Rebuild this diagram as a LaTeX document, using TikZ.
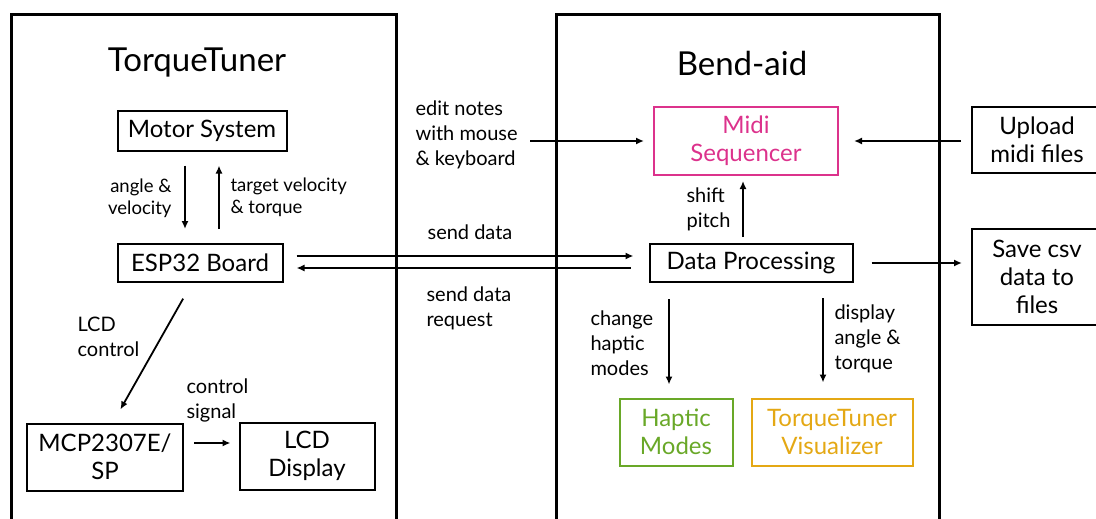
\documentclass[tikz,border=0pt]{standalone}
\usepackage{fontspec}
\setmainfont{Lato}
\usetikzlibrary{arrows.meta, positioning, calc}
\definecolor{midicolor}{RGB}{220, 50, 140}
\definecolor{hapticcolor}{RGB}{105, 168, 40}
\definecolor{visucolor}{RGB}{228, 168, 20}

\begin{document}
\begin{tikzpicture}[
    x=1pt, y=-1pt,
    >={Latex[length=8pt, width=7pt]},
    frame/.style={rectangle, draw, line width=2.8pt, anchor=north west},
    block/.style={rectangle, draw, line width=2pt, align=center, inner sep=2pt, font=\fontsize{24}{28}\selectfont},
    arrow/.style={->, line width=1.8pt},
    label/.style={font=\fontsize{20}{25}\selectfont, align=left},
    smalllabel/.style={font=\fontsize{18.5}{22}\selectfont},
    title/.style={font=\fontsize{33}{38}\selectfont}
]
\useasboundingbox (0,0) rectangle (1096,519);

% Frames
\node[frame, minimum width=385pt, minimum height=540pt] (ttframe) at (10,13) {};
\node[frame, minimum width=383pt, minimum height=540pt] (bdframe) at (555,13) {};
\node[title] (tttitle) at (197,63) {TorqueTuner};
\node[title] (bdtitle) at (742,63) {Bend-aid};

% TorqueTuner side
\node[block, minimum width=169pt, minimum height=39pt] (motor) at (202,131) {Motor System};
\node[block, minimum width=165pt, minimum height=38pt] (esp) at (200,263) {ESP32 Board};
\node[block, minimum width=156pt, minimum height=67pt] (mcp) at (105,457) {MCP2307E/\\SP};
\node[block, minimum width=135pt, minimum height=67pt] (lcd) at (307,456) {LCD\\Display};

% Bend-aid side
\node[block, draw=midicolor, text=midicolor, minimum width=184pt, minimum height=68pt] (midi) at (746,141) {Midi\\Sequencer};
\node[block, minimum width=203pt, minimum height=38pt] (dataproc) at (751,263) {Data Processing};
\node[block, draw=hapticcolor, text=hapticcolor, minimum width=113pt, minimum height=67pt] (haptic) at (676,432) {Haptic\\Modes};
\node[block, draw=visucolor, text=visucolor, minimum width=161pt, minimum height=67pt] (visu) at (832,432) {TorqueTuner\\Visualizer};

% Files
\node[block, minimum width=130pt, minimum height=65pt] (upload) at (1037,140) {Upload\\midi files};
\node[block, minimum width=130pt, minimum height=96pt] (savecsv) at (1037,277) {Save csv\\data to\\files};

% Motor <-> ESP32
\draw[arrow, shorten <=14pt, shorten >=14pt] (motor.south -| 185,0) -- (esp.north -| 185,0);
\draw[arrow, shorten <=14pt, shorten >=14pt] (esp.north -| 219,0) -- (motor.south -| 219,0);
\node[smalllabel, align=right, anchor=east] (anglelbl) at (175,198) {angle \&\\velocity};
\node[smalllabel, align=left, anchor=west] (targetlbl) at (227,197) {target velocity\\\& torque};

% ESP32 -> MCP -> LCD
\draw[arrow, shorten <=18pt, shorten >=15pt] ([xshift=-8pt]esp.south) -- ([xshift=8pt]mcp.north);
\node[label, anchor=west] (lcdctrl) at (74,337) {LCD\\control};
\draw[arrow, shorten <=10pt, shorten >=8pt] ([yshift=14pt]mcp.east) -- ([yshift=14pt]mcp.east -| lcd.west);
\node[label, anchor=west] (ctrlsig) at (183,400) {control\\signal};

% ESP32 <-> Data Processing
\draw[arrow, shorten <=13pt, shorten >=15pt] ([yshift=7pt]esp.east) -- ([yshift=7pt]dataproc.west);
\draw[arrow, shorten <=18pt, shorten >=13pt] ([yshift=-5pt]dataproc.west) -- ([yshift=-5pt]esp.east);
\node[label] (sendlbl) at (470,232) {send data};
\node[label, anchor=west] (reqlbl) at (423,308) {send data\\request};

% Inputs to Midi Sequencer
\coordinate (editstart) at (530,141);
\draw[arrow, shorten >=9pt] (editstart) -- (midi.west);
\node[label, anchor=west] (editlbl) at (412,135) {edit notes\\with mouse\\\& keyboard};
\draw[arrow, shorten <=10pt, shorten >=15pt] (upload.west |- midi.east) -- (midi.east);
\draw[arrow, shorten <=6pt, shorten >=5pt] (dataproc.north -| 743,0) -- (midi.south -| 743,0);
\node[label, anchor=west] (shiftlbl) at (683,209) {shift\\pitch};

% Data Processing outputs
\draw[arrow, shorten <=18pt, shorten >=9pt] (dataproc.east) -- (dataproc.east -| savecsv.west);
\draw[arrow, shorten <=16pt, shorten >=13pt] (dataproc.south -| 669,0) -- (haptic.north -| 669,0);
\node[label, anchor=west] (changelbl) at (587,343) {change\\haptic\\modes};
\draw[arrow, shorten <=15pt, shorten >=15pt] (dataproc.south -| 823,0) -- (visu.north -| 823,0);
\node[label, anchor=west] (displbl) at (831,339) {display\\angle \&\\torque};

\end{tikzpicture}
\end{document}
